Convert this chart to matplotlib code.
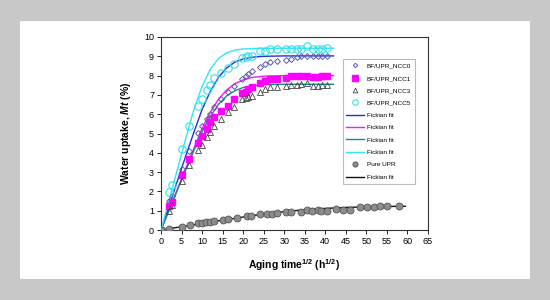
import numpy as np
import matplotlib.pyplot as plt
from matplotlib.patches import Rectangle

plt.rcParams['font.family'] = ['Liberation Sans', 'DejaVu Sans']
plt.rcParams['mathtext.fontset'] = 'custom'
plt.rcParams['mathtext.rm'] = 'Liberation Sans'
plt.rcParams['mathtext.bf'] = 'Liberation Sans:bold'
plt.rcParams['mathtext.bfit'] = 'Liberation Sans:italic:bold'

# measured points, x = aging time^1/2 (h^1/2)
t_ncc = [0, 1.9, 2.6, 5, 6.9, 9, 9.9, 11.1, 12, 13, 14.6, 16.3, 17.8, 19.7, 20.6,
         21.3, 22.1, 24, 25.3, 26.6, 28.3, 30.4, 31.7, 33, 34.1, 35.6, 36.9, 38.2,
         39.3, 40.3]
ncc0 = [0, 1.48, 1.74, 3.17, 4.09, 5.04, 5.39, 5.74, 6.0, 6.35, 6.78, 7.13, 7.44,
        7.83, 7.97, 8.1, 8.24, 8.43, 8.61, 8.73, 8.78, 8.82, 8.87, 8.96, 9.01, 9.01,
        9.01, 9.01, 9.01, 9.01]
ncc1 = [0, 1.22, 1.43, 2.87, 3.7, 4.52, 4.87, 5.25, 5.57, 5.83, 6.17, 6.43, 6.78,
        7.1, 7.17, 7.3, 7.43, 7.62, 7.74, 7.83, 7.83, 7.86, 7.97, 7.97, 7.97, 8.0,
        7.95, 7.95, 7.97, 8.0]
ncc3 = [0, 1.01, 1.3, 2.52, 3.39, 4.14, 4.43, 4.83, 5.08, 5.39, 5.77, 6.09, 6.35,
        6.78, 6.82, 6.87, 6.96, 7.17, 7.3, 7.39, 7.41, 7.44, 7.51, 7.51, 7.55, 7.62,
        7.48, 7.44, 7.51, 7.51]
ncc5 = [0, 1.95, 2.31, 4.19, 5.39, 6.43, 6.78, 7.27, 7.51, 7.86, 8.14, 8.38, 8.61,
        8.9, 8.96, 8.99, 9.04, 9.27, 9.27, 9.36, 9.36, 9.36, 9.39, 9.39, 9.39, 9.53,
        9.39, 9.36, 9.36, 9.43]

t_upr = [0, 2, 5, 7, 9, 10, 11, 12, 13, 15, 16.3, 18.4, 21, 22, 24, 25.7, 27, 28.3,
         30.4, 31.7, 34, 35.6, 36.7, 38.2, 39, 40.3, 42.5, 44.2, 46.1, 48.5, 50.2,
         51.9, 53.3, 55.1, 57.9]
upr = [0, 0.07, 0.17, 0.26, 0.35, 0.38, 0.4, 0.43, 0.49, 0.52, 0.57, 0.64, 0.71,
       0.71, 0.82, 0.85, 0.85, 0.9, 0.92, 0.92, 0.94, 1.04, 0.96, 1.04, 0.99, 1.0,
       1.08, 1.04, 1.06, 1.18, 1.18, 1.18, 1.22, 1.23, 1.23]

# Fickian fit curves
t_fit = [0, 2, 4, 6, 8, 10, 12, 14, 16, 18, 20, 22, 25, 30, 36, 42]
fit0 = [0, 1.27, 2.55, 3.82, 5.06, 6.24, 7.18, 7.91, 8.40, 8.70, 8.86, 8.95, 9.0, 9.02, 9.02, 9.02]
fit1 = [0, 1.06, 2.12, 3.18, 4.22, 5.26, 6.10, 6.78, 7.26, 7.58, 7.78, 7.90, 7.97, 8.0, 8.0, 8.0]
fit3 = [0, 1.03, 2.07, 3.10, 4.11, 5.10, 5.88, 6.51, 6.95, 7.22, 7.38, 7.47, 7.53, 7.55, 7.55, 7.55]
fit5 = [0, 1.57, 3.15, 4.71, 6.24, 7.44, 8.33, 8.89, 9.18, 9.32, 9.38, 9.40, 9.41, 9.42, 9.42, 9.42]
t_fit_upr = [0, 5, 10, 15, 20, 25, 30, 35, 40, 45, 50, 55, 59.5]
fit_upr = [0, 0.17, 0.34, 0.51, 0.67, 0.83, 0.95, 1.05, 1.12, 1.17, 1.20, 1.22, 1.23]

fig = plt.figure(figsize=(5.5, 3), dpi=100, facecolor='#c8c8c8')
fig.patches.append(Rectangle((20 / 550, 21 / 300), 510 / 550, 258 / 300,
                             transform=fig.transFigure, facecolor='white',
                             edgecolor='none', zorder=-10))
ax = fig.add_axes([161 / 550, 70 / 300, 267 / 550, 193 / 300])

ax.plot(t_ncc, ncc0, 'D', ms=3, mfc='none', mec='#5a5aa8', mew=0.7,
        label='BF/UPR_NCC0', zorder=3)
ax.plot(t_ncc, ncc1, 's', ms=5, mfc='#ff00ff', mec='#ff00ff',
        label='BF/UPR_NCC1', zorder=3)
ax.plot(t_ncc, ncc3, '^', ms=4.5, mfc='none', mec='#444444', mew=0.6,
        label='BF/UPR_NCC3', zorder=3)
ax.plot(t_ncc, ncc5, 'o', ms=5.3, mfc='none', mec='#33e0e8', mew=0.8,
        label='BF/UPR_NCC5', zorder=3)

ax.plot(t_fit, fit0, color='#2030e0', lw=1, label='Fickian fit', zorder=2)
ax.plot(t_fit, fit1, color='#ff10ff', lw=1, label='Fickian fit', zorder=2)
ax.plot(t_fit, fit3, color='#1a8888', lw=1, label='Fickian fit', zorder=2)
ax.plot(t_fit, fit5, color='#30e8f0', lw=1, label='Fickian fit', zorder=2)

ax.plot(t_upr, upr, 'o', ms=5, mfc='#8c8c8c', mec='#555555', mew=0.6,
        label='Pure UPR', zorder=3)
ax.plot(t_fit_upr, fit_upr, color='#111111', lw=1, label='Fickian fit', zorder=2)

ax.set_xlim(0, 65)
ax.set_ylim(0, 10)
ax.set_xticks(np.arange(0, 66, 5))
ax.set_yticks(np.arange(0, 11, 1))
ax.tick_params(labelsize=6.5, length=3, width=0.6, direction='out', pad=2)
for s in ax.spines.values():
    s.set_color('#333333')
    s.set_linewidth(0.8)

ax.set_xlabel(r'Aging time$^{\mathbf{1/2}}$ (h$^{\mathbf{1/2}}$)', fontsize=7.5,
              fontweight='bold', labelpad=8)
ax.set_ylabel(r'Water uptake, $\mathbfit{Mt}$ (%)', fontsize=7.5,
              fontweight='bold', labelpad=8)

leg = ax.legend(loc='upper left', bbox_to_anchor=(0.68, 0.885), fontsize=4.6,
                frameon=True, fancybox=False, edgecolor='#aaaaaa',
                labelspacing=1.08, handlelength=2.8, handletextpad=0.4,
                borderpad=0.6, borderaxespad=0, numpoints=1, markerscale=0.75)
leg.get_frame().set_linewidth(0.8)

fig.savefig('out.png', dpi=100, facecolor=fig.get_facecolor())
